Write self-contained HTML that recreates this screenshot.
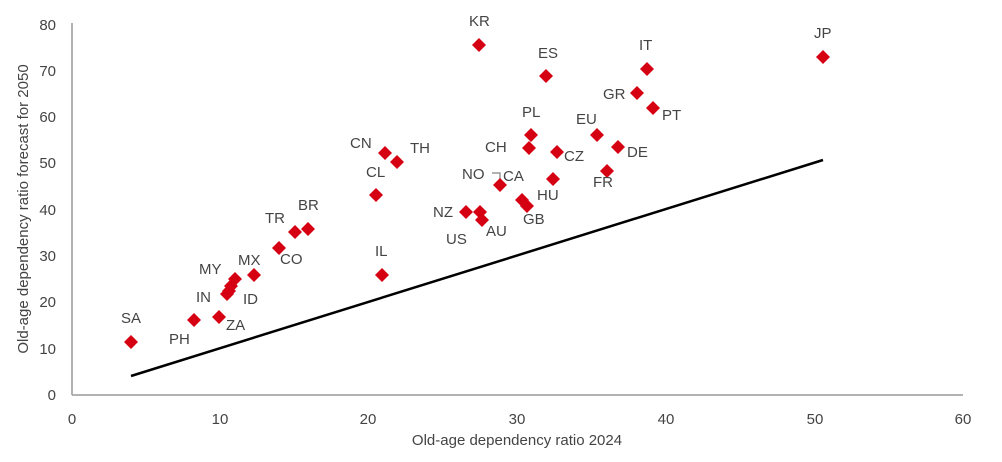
<!DOCTYPE html>
<html><head><meta charset="utf-8"><style>
body{margin:0;background:#fff}
svg text{font-family:"Liberation Sans",sans-serif;font-size:15px;fill:#444}
</style></head><body>
<svg width="1002" height="457" xmlns="http://www.w3.org/2000/svg">
<line x1="72" y1="23" x2="72" y2="395" stroke="#999" stroke-width="1.5"/>
<line x1="72" y1="395" x2="963" y2="395" stroke="#999" stroke-width="1.5"/>
<g text-anchor="end">
<text x="56" y="400">0</text><text x="56" y="354">10</text><text x="56" y="307">20</text><text x="56" y="261">30</text><text x="56" y="215">40</text><text x="56" y="168">50</text><text x="56" y="122">60</text><text x="56" y="76">70</text><text x="56" y="30">80</text>
</g>
<g text-anchor="middle">
<text x="72" y="424">0</text><text x="220" y="424">10</text><text x="368" y="424">20</text><text x="517" y="424">30</text><text x="666" y="424">40</text><text x="815" y="424">50</text><text x="963" y="424">60</text>
<text x="517" y="445">Old-age dependency ratio 2024</text>
<text transform="translate(28,209) rotate(-90)">Old-age dependency ratio forecast for 2050</text>
</g>
<line x1="131" y1="376" x2="823" y2="160" stroke="#000" stroke-width="2.5"/>
<polyline points="492,173 500,173 500,183" fill="none" stroke="#999" stroke-width="1.5"/>
<g fill="#d50011">
<path id="d" d="M0,-7 L7,0 L0,7 L-7,0Z" transform="translate(479,45)"/>
<path d="M0,-7 L7,0 L0,7 L-7,0Z" transform="translate(546,76)"/>
<path d="M0,-7 L7,0 L0,7 L-7,0Z" transform="translate(647,69)"/>
<path d="M0,-7 L7,0 L0,7 L-7,0Z" transform="translate(823,57)"/>
<path d="M0,-7 L7,0 L0,7 L-7,0Z" transform="translate(637,93)"/>
<path d="M0,-7 L7,0 L0,7 L-7,0Z" transform="translate(653,108)"/>
<path d="M0,-7 L7,0 L0,7 L-7,0Z" transform="translate(531,135)"/>
<path d="M0,-7 L7,0 L0,7 L-7,0Z" transform="translate(597,135)"/>
<path d="M0,-7 L7,0 L0,7 L-7,0Z" transform="translate(529,148)"/>
<path d="M0,-7 L7,0 L0,7 L-7,0Z" transform="translate(557,152)"/>
<path d="M0,-7 L7,0 L0,7 L-7,0Z" transform="translate(618,147)"/>
<path d="M0,-7 L7,0 L0,7 L-7,0Z" transform="translate(385,153)"/>
<path d="M0,-7 L7,0 L0,7 L-7,0Z" transform="translate(397,162)"/>
<path d="M0,-7 L7,0 L0,7 L-7,0Z" transform="translate(500,185)"/>
<path d="M0,-7 L7,0 L0,7 L-7,0Z" transform="translate(553,179)"/>
<path d="M0,-7 L7,0 L0,7 L-7,0Z" transform="translate(607,171)"/>
<path d="M0,-7 L7,0 L0,7 L-7,0Z" transform="translate(376,195)"/>
<path d="M0,-7 L7,0 L0,7 L-7,0Z" transform="translate(466,212)"/>
<path d="M0,-7 L7,0 L0,7 L-7,0Z" transform="translate(480,212)"/>
<path d="M0,-7 L7,0 L0,7 L-7,0Z" transform="translate(482,220)"/>
<path d="M0,-7 L7,0 L0,7 L-7,0Z" transform="translate(522,200)"/>
<path d="M0,-7 L7,0 L0,7 L-7,0Z" transform="translate(527,206)"/>
<path d="M0,-7 L7,0 L0,7 L-7,0Z" transform="translate(308,229)"/>
<path d="M0,-7 L7,0 L0,7 L-7,0Z" transform="translate(295,232)"/>
<path d="M0,-7 L7,0 L0,7 L-7,0Z" transform="translate(279,248)"/>
<path d="M0,-7 L7,0 L0,7 L-7,0Z" transform="translate(382,275)"/>
<path d="M0,-7 L7,0 L0,7 L-7,0Z" transform="translate(254,275)"/>
<path d="M0,-7 L7,0 L0,7 L-7,0Z" transform="translate(235,279)"/>
<path d="M0,-7 L7,0 L0,7 L-7,0Z" transform="translate(231,286)"/>
<path d="M0,-7 L7,0 L0,7 L-7,0Z" transform="translate(229,291)"/>
<path d="M0,-7 L7,0 L0,7 L-7,0Z" transform="translate(227,294)"/>
<path d="M0,-7 L7,0 L0,7 L-7,0Z" transform="translate(194,320)"/>
<path d="M0,-7 L7,0 L0,7 L-7,0Z" transform="translate(219,317)"/>
<path d="M0,-7 L7,0 L0,7 L-7,0Z" transform="translate(131,342)"/>
</g>
<g>
<text x="469" y="26">KR</text><text x="538" y="58">ES</text><text x="639" y="50">IT</text><text x="814" y="38">JP</text>
<text x="603" y="99">GR</text><text x="662" y="120">PT</text><text x="522" y="117">PL</text><text x="576" y="124">EU</text>
<text x="485" y="152">CH</text><text x="564" y="161">CZ</text><text x="627" y="157">DE</text>
<text x="350" y="148">CN</text><text x="410" y="153">TH</text><text x="462" y="179">NO</text><text x="503" y="181">CA</text>
<text x="537" y="200">HU</text><text x="593" y="187">FR</text><text x="366" y="177">CL</text>
<text x="433" y="217">NZ</text><text x="446" y="244">US</text><text x="486" y="236">AU</text><text x="523" y="224">GB</text>
<text x="298" y="210">BR</text><text x="265" y="223">TR</text><text x="280" y="264">CO</text><text x="375" y="256">IL</text>
<text x="238" y="265">MX</text><text x="199" y="274">MY</text><text x="196" y="302">IN</text><text x="243" y="304">ID</text>
<text x="169" y="344">PH</text><text x="226" y="330">ZA</text><text x="121" y="323">SA</text>
</g>
</svg>
</body></html>
